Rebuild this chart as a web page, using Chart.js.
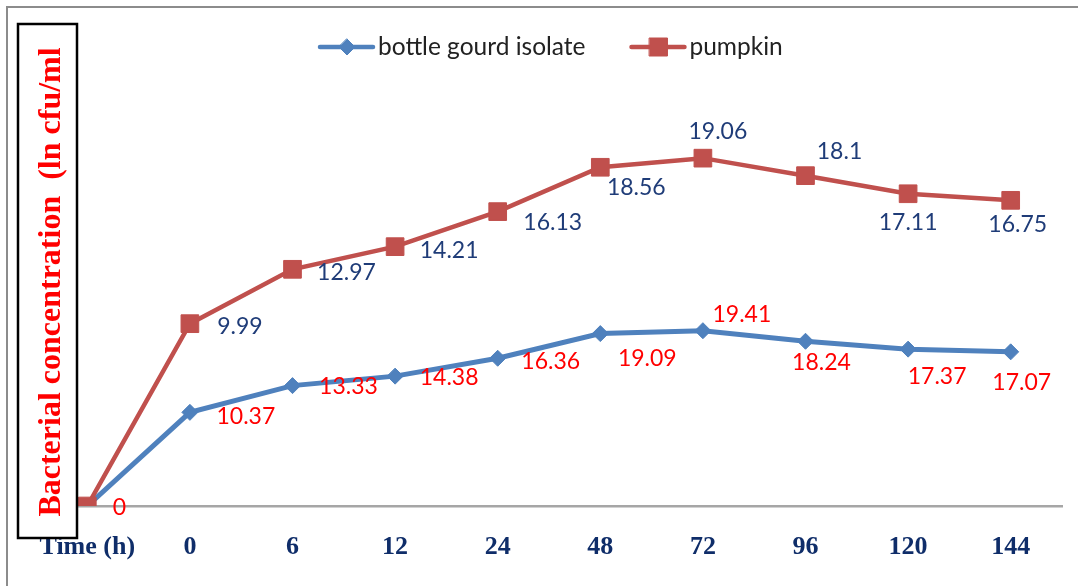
<!DOCTYPE html>
<html>
<head>
<meta charset="utf-8">
<script src="https://cdn.jsdelivr.net/npm/chart.js@4.4.1/dist/chart.umd.min.js"></script>
<style>
    html, body { margin: 0; padding: 0; background: #fff; }
</style>
</head>
<body>
<canvas id="growth-chart" width="1078" height="586"></canvas>
<script>
var timeLabels = ['Time (h)', '0', '6', '12', '24', '48', '72', '96', '120', '144'];
var bottleGourd = [0, 10.37, 13.33, 14.38, 16.36, 19.09, 19.41, 18.24, 17.37, 17.07];
var pumpkin = [0, 9.99, 12.97, 14.21, 16.13, 18.56, 19.06, 18.1, 17.11, 16.75];
var seriesNames = ['bottle gourd isolate', 'pumpkin'];
var yTitle = 'Bacterial concentration  (ln cfu/ml';

colors = {
    blue: '#4F81BD',
    red: '#C0504D',
    labelRed: '#FF0000',
    labelNavy: '#1F3C78',
    tick: '#0F2D69'
}

// where each value label sits, relative to its point (label centre)
var gourdLabelShift = [[32, 2], [56, 4], [56, 1], [54, 1], [53, 3], [47, 25], [39, -16], [16, 21], [29, 27], [11, 31]];
var pumpkinLabelShift = [null, [50, 3], [54, 3], [54, 4], [55, 11], [36, 20], [15, -27], [34, -24], [0, 29], [7, 24]];

function marker(ctx, style, x, y, r, color) {
    ctx.fillStyle = color;
    ctx.strokeStyle = color;
    ctx.lineWidth = 1;
    ctx.beginPath();
    if (style === 'rectRot') {
        ctx.moveTo(x, y - r);
        ctx.lineTo(x + r, y);
        ctx.lineTo(x, y + r);
        ctx.lineTo(x - r, y);
    } else {
        ctx.rect(x - r, y - r, 2 * r, 2 * r);
    }
    ctx.closePath();
    ctx.fill();
    ctx.stroke();
}

var decorations = {
    id: 'decorations',
    beforeDraw: function (chart) {
        var ctx = chart.ctx;
        ctx.save();
        ctx.fillStyle = '#fff';
        ctx.fillRect(0, 0, chart.width, chart.height);
        ctx.strokeStyle = '#8c8c8c';
        ctx.lineWidth = 2;
        ctx.strokeRect(7, 7, chart.width + 20, chart.height + 20);
        ctx.restore();
    },
    afterDatasetsDraw: function (chart) {
        var ctx = chart.ctx;
        ctx.save();
        ctx.font = '23px Lato';
        ctx.textAlign = 'center';
        ctx.textBaseline = 'middle';
        var sets = [
            {meta: chart.getDatasetMeta(0), values: bottleGourd, shift: gourdLabelShift, color: colors.labelRed},
            {meta: chart.getDatasetMeta(1), values: pumpkin, shift: pumpkinLabelShift, color: colors.labelNavy}
        ];
        sets.forEach(function (s) {
            ctx.fillStyle = s.color;
            s.meta.data.forEach(function (pt, i) {
                var sh = s.shift[i];
                if (!sh) return;
                ctx.fillText(String(s.values[i]), pt.x + sh[0], pt.y + sh[1]);
            });
        });
        ctx.restore();
    },
    afterDraw: function (chart) {
        var ctx = chart.ctx;
        ctx.save();

        // boxed y axis title
        ctx.fillStyle = '#fff';
        ctx.fillRect(18, 24, 59, 514);
        ctx.strokeStyle = '#000';
        ctx.lineWidth = 2.5;
        ctx.strokeRect(18, 24, 59, 514);
        ctx.translate(60, 282);
        ctx.rotate(-Math.PI / 2);
        ctx.font = 'bold 32px "Liberation Serif"';
        ctx.fillStyle = colors.labelRed;
        ctx.textAlign = 'center';
        ctx.textBaseline = 'alphabetic';
        ctx.fillText(yTitle, 0, 0);
        ctx.setTransform(1, 0, 0, 1, 0, 0);

        // legend
        var x = 320, y = 47;
        ctx.font = '24.5px Lato';
        ctx.textBaseline = 'middle';
        ctx.textAlign = 'left';
        chart.data.datasets.forEach(function (ds) {
            ctx.strokeStyle = ds.borderColor;
            ctx.lineWidth = 4.5;
            ctx.lineCap = 'round';
            ctx.beginPath();
            ctx.moveTo(x, y);
            ctx.lineTo(x + 53, y);
            ctx.stroke();
            marker(ctx, ds.pointStyle, x + 27, y, ds.pointStyle === 'rectRot' ? 8 : 9, ds.borderColor);
            ctx.fillStyle = '#222';
            ctx.fillText(ds.label, x + 58, y);
            x += 58 + ctx.measureText(ds.label).width + 46;
        });
        ctx.restore();
    }
};

var ctx = document.getElementById('growth-chart').getContext('2d');
new Chart(ctx, {
    type: 'line',
    data: {
        labels: timeLabels,
        datasets: [{
            label: seriesNames[0],
            data: bottleGourd,
            yAxisID: 'y2',
            borderColor: colors.blue,
            backgroundColor: colors.blue,
            borderWidth: 5,
            pointStyle: 'rectRot',
            pointRadius: 8,
            pointBorderWidth: 1,
            tension: 0,
            order: 1
        }, {
            label: seriesNames[1],
            data: pumpkin,
            yAxisID: 'y',
            borderColor: colors.red,
            backgroundColor: colors.red,
            borderWidth: 4.5,
            pointStyle: 'rect',
            pointRadius: 12.5,
            pointBorderWidth: 1,
            tension: 0,
            order: 0
        }]
    },
    plugins: [decorations],
    options: {
        responsive: false,
        animation: false,
        layout: {
            padding: {left: 36, right: 16, top: 68, bottom: 0}
        },
        plugins: {
            legend: {display: false},
            tooltip: {enabled: false}
        },
        scales: {
            x: {
                offset: true,
                grid: {display: false, drawTicks: false},
                border: {color: '#a6a6a6', width: 2.5},
                ticks: {
                    color: colors.tick,
                    font: {family: '"Liberation Serif"', size: 26, weight: 'bold'},
                    padding: 26,
                    maxRotation: 0,
                    autoSkip: false
                },
                afterFit: function (scale) {
                    scale.height = 80;
                }
            },
            y: {display: false, min: 0, max: 24},
            y2: {display: false, position: 'right', min: 0, max: 48.5}
        }
    }
});
</script>
</body>
</html>
